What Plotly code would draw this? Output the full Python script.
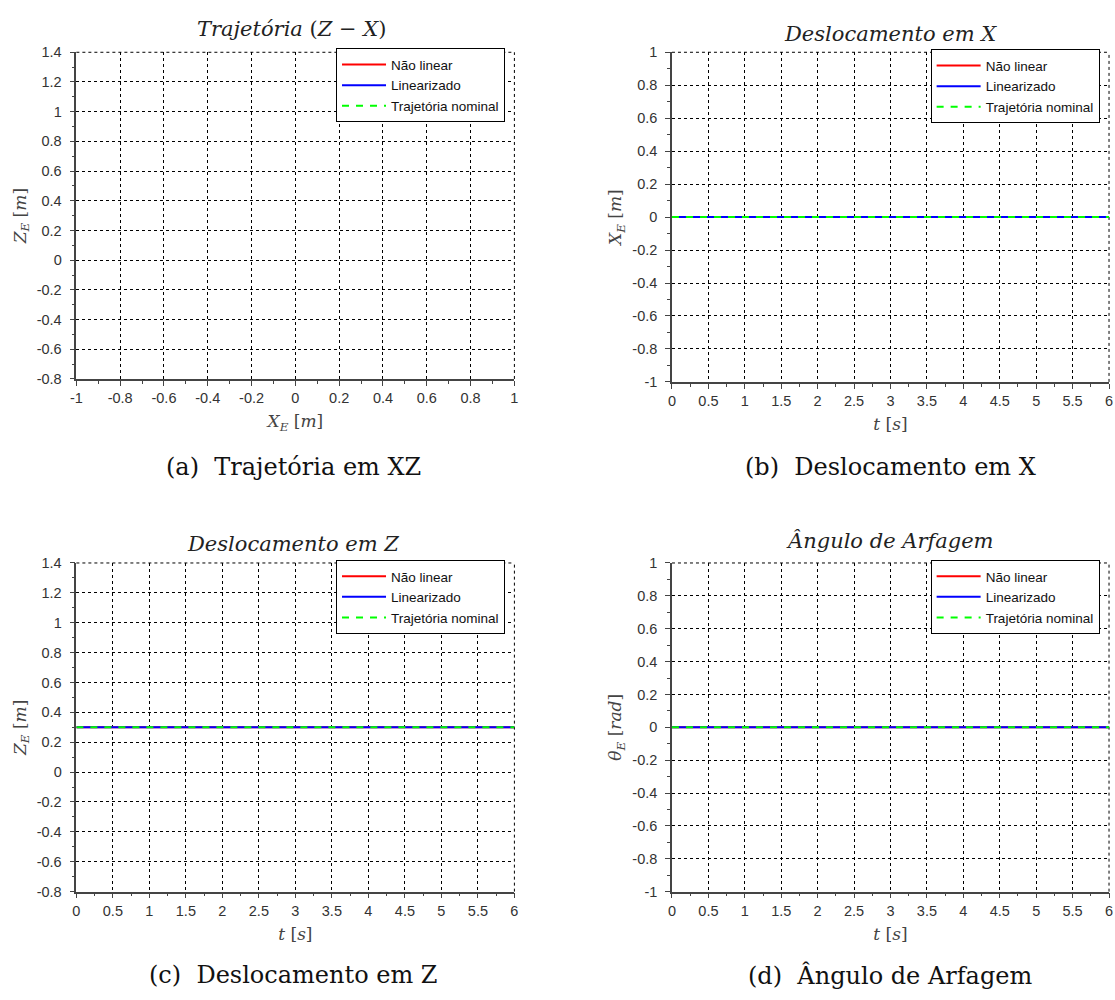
import plotly.graph_objects as go

# ---- simulation results (constant equilibrium) ----
t_s = [0.0, 6.0]

x_nao_linear = [0.0, 0.0]
x_linearizado = [0.0, 0.0]
x_nominal = [0.0, 0.0]

z_nao_linear = [0.3, 0.3]
z_linearizado = [0.3, 0.3]
z_nominal = [0.3, 0.3]

theta_nao_linear = [0.0, 0.0]
theta_linearizado = [0.0, 0.0]
theta_nominal = [0.0, 0.0]

# ---- tick definitions ----
xz_x_ticks = [-1, -0.8, -0.6, -0.4, -0.2, 0, 0.2, 0.4, 0.6, 0.8, 1]
xz_x_labels = ["-1", "-0.8", "-0.6", "-0.4", "-0.2", "0", "0.2", "0.4", "0.6", "0.8", "1"]
z_ticks = [-0.8, -0.6, -0.4, -0.2, 0, 0.2, 0.4, 0.6, 0.8, 1, 1.2, 1.4]
z_labels = ["-0.8", "-0.6", "-0.4", "-0.2", "0", "0.2", "0.4", "0.6", "0.8", "1", "1.2", "1.4"]
t_ticks = [0, 0.5, 1, 1.5, 2, 2.5, 3, 3.5, 4, 4.5, 5, 5.5, 6]
t_labels = ["0", "0.5", "1", "1.5", "2", "2.5", "3", "3.5", "4", "4.5", "5", "5.5", "6"]
unit_ticks = [-1, -0.8, -0.6, -0.4, -0.2, 0, 0.2, 0.4, 0.6, 0.8, 1]
unit_labels = ["-1", "-0.8", "-0.6", "-0.4", "-0.2", "0", "0.2", "0.4", "0.6", "0.8", "1"]

series_names = ["Não linear", "Linearizado", "Trajetória nominal"]
series_colors = ["#ff0000", "#0000ff", "#00ff00"]
series_dash = ["solid", "solid", "7px,7px"]

TICK_FONT = dict(family="Liberation Sans, Arial, sans-serif", size=14.5, color="#333333")
TITLE_FONT = dict(family="DejaVu Serif, serif", size=17, color="#444444")
GRID_DASH = "3px,3px"

fig = go.Figure()

panels = [
    # (xaxis, yaxis, legend, x-data, y-data lists)
    ("x", "y", "legend", [x_nao_linear, x_linearizado, x_nominal],
     [z_nao_linear, z_linearizado, z_nominal]),
    ("x2", "y2", "legend2", [t_s, t_s, t_s],
     [x_nao_linear, x_linearizado, x_nominal]),
    ("x3", "y3", "legend3", [t_s, t_s, t_s],
     [z_nao_linear, z_linearizado, z_nominal]),
    ("x4", "y4", "legend4", [t_s, t_s, t_s],
     [theta_nao_linear, theta_linearizado, theta_nominal]),
]

for xa, ya, leg, xs, ys in panels:
    for name, color, dash, xv, yv in zip(series_names, series_colors, series_dash, xs, ys):
        fig.add_trace(go.Scatter(
            x=xv, y=yv, mode="lines", name=name,
            line=dict(color=color, width=2, dash=dash),
            xaxis=xa, yaxis=ya, legend=leg, showlegend=True,
        ))


def axis_style(domain, anchor, tickvals, ticktext, rng, minor_dtick, title, standoff, label_gap):
    return dict(
        domain=domain, anchor=anchor, range=rng,
        tickmode="array", tickvals=tickvals, ticktext=ticktext,
        showline=True, linecolor="#444444", linewidth=1.5,
        ticks="outside", ticklen=5, tickcolor="#444444", tickwidth=1,
        tickfont=TICK_FONT, ticklabelstandoff=label_gap,
        showgrid=True, gridcolor="#000000", gridwidth=1, griddash=GRID_DASH,
        zeroline=False,
        minor=dict(tickmode="linear", tick0=0, dtick=minor_dtick, ticks="outside",
                   ticklen=3, tickcolor="#444444", showgrid=False),
        title=dict(text=title, font=TITLE_FONT, standoff=standoff),
        fixedrange=True,
    )


left_dom = [71 / 1115, 513 / 1115]
right_dom = [672 / 1115, 1113 / 1115]
top_dom_a = [1 - 377 / 1000, 1 - 45 / 1000]
top_dom_b = [1 - 380 / 1000, 1 - 45 / 1000]
bot_dom = [1 - 898 / 1000, 1 - 564 / 1000]

xlab_m = "<i>X</i><sub><i>E</i></sub> [<i>m</i>]"
zlab_m = "<i>Z</i><sub><i>E</i></sub> [<i>m</i>]"
tlab = "<i>t</i> [<i>s</i>]"
thlab = "<i>θ</i><sub><i>E</i></sub> [<i>rad</i>]"

fig.update_layout(
    xaxis=axis_style(left_dom, "y", xz_x_ticks, xz_x_labels, [-1, 1], 0.1, xlab_m, 10, 0),
    yaxis=axis_style(top_dom_a, "x", z_ticks, z_labels, [-0.8, 1.4], 0.1, zlab_m, 6, 5),
    xaxis2=axis_style(right_dom, "y2", t_ticks, t_labels, [0, 6], 0.25, tlab, 10, 0),
    yaxis2=axis_style(top_dom_b, "x2", unit_ticks, unit_labels, [-1, 1], 0.1, xlab_m, 6, 5),
    xaxis3=axis_style(left_dom, "y3", t_ticks, t_labels, [0, 6], 0.25, tlab, 10, 0),
    yaxis3=axis_style(bot_dom, "x3", z_ticks, z_labels, [-0.8, 1.4], 0.1, zlab_m, 6, 5),
    xaxis4=axis_style(right_dom, "y4", t_ticks, t_labels, [0, 6], 0.25, tlab, 10, 0),
    yaxis4=axis_style(bot_dom, "x4", unit_ticks, unit_labels, [-1, 1], 0.1, thlab, 6, 5),
)

# dashed top and right frame edges (grid lines at the range limits)
frame_shapes = []
for sfx in ["", "2", "3", "4"]:
    xr, yr = "x%s domain" % sfx, "y%s domain" % sfx
    frame_shapes.append(dict(type="line", xref=xr, yref=yr, x0=0, x1=1, y0=1, y1=1,
                             line=dict(color="#000000", width=1, dash=GRID_DASH), layer="below"))
    frame_shapes.append(dict(type="line", xref=xr, yref=yr, x0=1, x1=1, y0=0, y1=1,
                             line=dict(color="#000000", width=1, dash=GRID_DASH), layer="below"))
fig.update_layout(shapes=frame_shapes)

LEGEND_STYLE = dict(
    xanchor="left", yanchor="top",
    bgcolor="#ffffff", bordercolor="#000000", borderwidth=1,
    font=dict(family="Liberation Sans, Arial, sans-serif", size=13.5, color="#111111"),
    itemwidth=44, tracegroupgap=0,
)
fig.update_layout(
    legend=dict(x=333 / 1115, y=1 - 41 / 1000, **LEGEND_STYLE),
    legend2=dict(x=933 / 1115, y=1 - 42 / 1000, **LEGEND_STYLE),
    legend3=dict(x=333 / 1115, y=1 - 561 / 1000, **LEGEND_STYLE),
    legend4=dict(x=933 / 1115, y=1 - 561 / 1000, **LEGEND_STYLE),
)

# panel titles and captions
HEAD_FONT = dict(family="DejaVu Serif, serif", size=21, color="#222222")
CAP_FONT = dict(family="DejaVu Serif, serif", size=24, color="#111111")
texts = [
    ("<i>Trajetória</i> (<i>Z</i> − <i>X</i>)", 288, 21, HEAD_FONT),
    ("<i>Deslocamento em X</i>", 892, 26, HEAD_FONT),
    ("<i>Deslocamento em Z</i>", 290, 545, HEAD_FONT),
    ("<i>Ângulo de Arfagem</i>", 892, 542, HEAD_FONT),
    ("(a)  Trajetória em XZ", 290, 466, CAP_FONT),
    ("(b)  Deslocamento em X", 892, 466, CAP_FONT),
    ("(c)  Deslocamento em Z", 290, 983, CAP_FONT),
    ("(d)  Ângulo de Arfagem", 892, 983, CAP_FONT),
]
fig.update_layout(annotations=[
    dict(text=txt, x=px / 1115, y=1 - py / 1000, xref="paper", yref="paper",
         xanchor="center", yanchor="middle", showarrow=False, font=f)
    for txt, px, py, f in texts
])

fig.update_layout(
    width=1115, height=1000,
    margin=dict(l=0, r=0, t=0, b=0),
    paper_bgcolor="#ffffff", plot_bgcolor="#ffffff",
    showlegend=True,
)

fig.write_html("out.html", config={"displayModeBar": False})
